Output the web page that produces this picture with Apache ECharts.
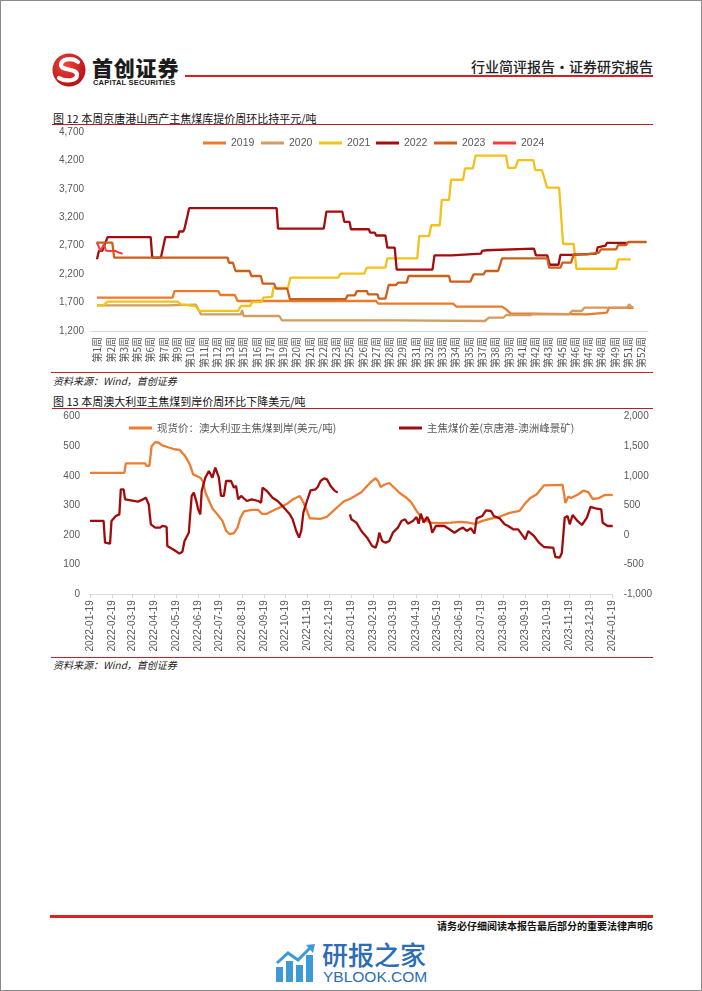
<!DOCTYPE html>
<html><head><meta charset="utf-8">
<script src="https://cdn.jsdelivr.net/npm/echarts@6.0.0/dist/echarts.min.js"></script>
<style>
html,body{margin:0;padding:0;background:#fff;}
#page{position:relative;width:702px;height:991px;box-sizing:border-box;border:1px solid #8a8a8a;overflow:hidden;font-family:"Noto Sans CJK SC","Liberation Sans",sans-serif;}
.t{position:absolute;white-space:nowrap;}
.ln{position:absolute;}
#chart{position:absolute;left:0;top:0;width:702px;height:991px;}
</style></head>
<body><div id="page">
<svg class="ln" style="left:51px;top:52px" width="34" height="34" viewBox="0 0 34 34">
 <defs><radialGradient id="g" cx="40%" cy="35%" r="70%"><stop offset="0" stop-color="#f0463a"/><stop offset="1" stop-color="#b30f16"/></radialGradient></defs>
 <circle cx="17" cy="17" r="16.5" fill="url(#g)"/>
 <path d="M26 9 C20 4 9 6 9 12 C9 18 25 15 25 22 C25 28 13 29 7 25" fill="none" stroke="#fff" stroke-width="4.2" stroke-linecap="round"/>
</svg>
<div class="t" style="left:91px;top:56px;font-size:21px;line-height:21px;font-weight:900;color:#1b1b1b;letter-spacing:0.8px">首创证券</div>
<div class="t" style="left:92px;top:78px;font-size:7.5px;line-height:8px;font-weight:700;color:#1b1b1b;font-family:'Liberation Sans';letter-spacing:0.2px">CAPITAL SECURITIES</div>
<div class="ln" style="left:184px;top:74px;width:468px;height:2px;background:#d71f1f"></div>
<div class="t" style="left:0;width:652px;text-align:right;top:58px;font-size:14px;line-height:14px;color:#222;font-weight:500">行业简评报告·证券研究报告</div>

<div class="t" style="left:52px;top:111.5px;font-size:11px;line-height:11px;color:#111">图 12 本周京唐港山西产主焦煤库提价周环比持平元/吨</div>
<div class="ln" style="left:51px;top:123px;width:601px;height:1px;background:#a8232a"></div>
<div class="ln" style="left:50px;top:371px;width:602px;height:1px;background:#c8202a"></div>
<div class="t" style="left:52px;top:375px;font-size:10px;line-height:10px;color:#222;font-style:italic">资料来源：Wind，首创证券</div>

<div class="t" style="left:52px;top:394.5px;font-size:11px;line-height:11px;color:#111">图 13 本周澳大利亚主焦煤到岸价周环比下降美元/吨</div>
<div class="ln" style="left:51px;top:407px;width:601px;height:1px;background:#a8232a"></div>
<div class="ln" style="left:50px;top:656px;width:602px;height:1px;background:#c8202a"></div>
<div class="t" style="left:52px;top:658.5px;font-size:10px;line-height:10px;color:#222;font-style:italic">资料来源：Wind，首创证券</div>

<div class="ln" style="left:49px;top:914px;width:603px;height:2.5px;background:#e0201f"></div>
<div class="t" style="left:0;width:652px;text-align:right;top:920px;font-size:10px;line-height:10px;color:#111;font-weight:700">请务必仔细阅读本报告最后部分的重要法律声明6</div>

<svg class="ln" style="left:274px;top:942px" width="42" height="40" viewBox="0 0 42 40">
 <rect x="1" y="24" width="7" height="15" fill="#3d9ad9"/>
 <rect x="11" y="18" width="7" height="21" fill="#3d9ad9"/>
 <rect x="21" y="22" width="7" height="17" fill="#3d9ad9"/>
 <rect x="31" y="12" width="7" height="27" fill="#3d9ad9"/>
 <polyline points="2,20 13,10 23,17 36,4" fill="none" stroke="#3d9ad9" stroke-width="3"/>
 <polygon points="31,2 40,1 38,10" fill="#3d9ad9"/>
</svg>
<div class="t" style="left:321px;top:940px;font-size:26px;line-height:26px;color:#2c6db3;font-weight:500">研报之家</div>
<div class="t" style="left:322px;top:968px;font-size:15.5px;line-height:16px;color:#2c6db3;font-family:'Liberation Sans'">YBLOOK.COM</div>

<div id="chart"></div>
</div>
<script>
// ---------- Chart 1 data (x = position along week axis, value = 元/吨) ----------
const weekLabels = ['第1周','第2周','第3周','第5周','第6周','第7周','第9周','第10周','第11周','第12周','第13周','第15周','第16周','第17周','第19周','第20周','第21周','第22周','第23周','第25周','第26周','第27周','第28周','第29周','第31周','第32周','第33周','第34周','第35周','第37周','第38周','第39周','第41周','第42周','第43周','第45周','第46周','第47周','第48周','第49周','第51周','第52周'];
const yearNames = ['2019','2020','2021','2022','2023','2024'];
const s2019 = [[0.45,1786],[6.15,1786],[6.3,1903],[9.6,1903],[9.75,1833],[10.85,1833],[11.05,1728],[21.5,1728],[21.65,1681],[27.3,1681],[27.55,1628],[31.0,1628],[31.3,1580],[31.65,1505],[33.3,1505],[33.45,1493],[37.4,1493],[37.55,1522],[38.9,1522],[39.05,1605],[40.9,1605]];
const s2020 = [[0.45,1651],[5.7,1651],[5.85,1665],[7.9,1665],[8.3,1493],[11.3,1493],[11.4,1570],[11.5,1464],[14.2,1464],[14.4,1388],[23.2,1388],[23.3,1376],[29.7,1376],[30.0,1434],[31.1,1434],[31.3,1481],[33.1,1481],[33.3,1493],[36.0,1493],[36.3,1552],[37.0,1552],[37.2,1610],[40.4,1610],[40.6,1669],[40.75,1620],[40.9,1620]];
const s2021 = [[0.45,1650],[0.95,1650],[1.25,1716],[6.55,1716],[6.75,1670],[7.85,1640],[8.0,1600],[8.15,1555],[11.1,1555],[11.3,1640],[12.0,1640],[12.15,1710],[12.85,1710],[13.0,1786],[13.65,1800],[13.75,1960],[14.85,1960],[15.05,2140],[18.65,2140],[18.8,2208],[20.6,2208],[20.8,2314],[22.2,2314],[22.35,2478],[24.6,2478],[24.75,2870],[25.5,2870],[25.65,3060],[26.3,3060],[26.45,3505],[27.0,3505],[27.15,3860],[28.05,3860],[28.2,4060],[28.8,4060],[29.0,4285],[31.3,4285],[31.45,4070],[32.0,4070],[32.2,4205],[33.35,4205],[33.5,4030],[34.0,4030],[34.4,3720],[35.3,3720],[35.6,2730],[36.4,2730],[36.6,2295],[39.6,2295],[39.75,2460],[40.7,2460]];
const s2022 = [[0.45,2460],[0.6,2610],[0.85,2610],[1.25,2850],[4.5,2850],[4.62,2490],[5.27,2490],[5.6,2850],[6.55,2850],[6.65,2950],[6.95,2950],[7.05,3000],[7.2,3150],[7.4,3360],[14.0,3360],[14.1,3000],[17.55,3000],[17.75,3300],[18.95,3300],[19.1,3120],[19.5,3120],[19.6,2990],[20.95,2990],[21.05,2930],[21.4,2930],[21.5,2880],[22.2,2880],[22.35,2665],[22.9,2665],[23.05,2280],[25.75,2280],[25.9,2530],[27.2,2530],[27.3,2560],[29.4,2560],[29.5,2610],[29.8,2620],[29.95,2650],[33.4,2650],[33.55,2530],[34.4,2530],[34.6,2365],[35.25,2365],[35.4,2540],[36.2,2540],[36.3,2560],[38.1,2560],[38.2,2670],[38.8,2700],[38.9,2750],[40.4,2750]];
const s2023 = [[0.4,2755],[1.6,2755],[1.75,2490],[10.3,2490],[10.4,2400],[10.7,2400],[10.9,2255],[11.95,2255],[12.1,2167],[12.8,2167],[12.95,2032],[13.8,2032],[13.95,1944],[14.8,1944],[15.0,1760],[19.2,1760],[19.35,1827],[19.9,1827],[20.05,1903],[20.8,1903],[20.9,1844],[21.6,1844],[21.7,1768],[22.2,1768],[22.45,2009],[23.0,2009],[23.15,2050],[23.8,2050],[23.95,2167],[27.0,2167],[27.1,2067],[28.6,2067],[28.85,2197],[29.6,2197],[29.75,2255],[30.7,2255],[31.0,2478],[34.4,2478],[34.55,2314],[35.4,2314],[35.55,2402],[36.2,2402],[36.4,2548],[37.4,2548],[37.55,2578],[38.3,2578],[38.45,2636],[39.6,2636],[39.75,2712],[40.35,2712],[40.5,2765],[41.9,2765]];
const s2024 = [[0.45,2755],[0.72,2607],[0.98,2725],[1.12,2615],[1.35,2607],[1.85,2607],[2.1,2580],[2.38,2560]];

// ---------- Chart 2 data ----------
const tickDates = ['2022-01-19','2022-02-19','2022-03-19','2022-04-19','2022-05-19','2022-06-19','2022-07-19','2022-08-19','2022-09-19','2022-10-19','2022-11-19','2022-12-19','2023-01-19','2023-02-19','2023-03-19','2023-04-19','2023-05-19','2023-06-19','2023-07-19','2023-08-19','2023-09-19','2023-10-19','2023-11-19','2023-12-19','2024-01-19'];
const spotName = '现货价：澳大利亚主焦煤到岸(美元/吨)';
const spreadName = '主焦煤价差(京唐港-澳洲峰景矿)';
const spotPrice = [['2022-01-19',410],['2022-03-08',410],['2022-03-10',442],['2022-04-06',442],['2022-04-08',434],['2022-04-12',434],['2022-04-15',500],['2022-04-20',514],['2022-04-25',512],['2022-04-30',503],['2022-05-09',496],['2022-05-17',490],['2022-05-24',488],['2022-05-31',470],['2022-06-05',450],['2022-06-08',435],['2022-06-12',405],['2022-06-22',394],['2022-06-26',380],['2022-06-29',345],['2022-07-09',290],['2022-07-16',270],['2022-07-23',248],['2022-07-28',215],['2022-08-02',203],['2022-08-08',207],['2022-08-13',225],['2022-08-17',258],['2022-08-22',280],['2022-09-02',285],['2022-09-11',285],['2022-09-16',272],['2022-09-23',272],['2022-10-01',282],['2022-10-10',292],['2022-10-20',304],['2022-10-29',320],['2022-11-08',332],['2022-11-13',310],['2022-11-18',282],['2022-11-22',257],['2022-12-07',255],['2022-12-16',262],['2022-12-24',280],['2023-01-02',300],['2023-01-09',315],['2023-01-17',322],['2023-01-24',332],['2023-02-02',345],['2023-02-10',366],['2023-02-17',383],['2023-02-22',392],['2023-02-26',380],['2023-03-01',362],['2023-03-06',370],['2023-03-13',376],['2023-03-20',360],['2023-03-27',343],['2023-04-06',326],['2023-04-13',310],['2023-04-20',282],['2023-04-27',259],['2023-05-09',242],['2023-05-24',240],['2023-06-07',242],['2023-06-22',245],['2023-07-01',242],['2023-07-11',238],['2023-07-21',248],['2023-07-30',254],['2023-08-14',262],['2023-08-28',275],['2023-09-11',282],['2023-09-19',308],['2023-09-26',325],['2023-10-05',338],['2023-10-15',368],['2023-11-10',370],['2023-11-14',308],['2023-11-18',330],['2023-11-22',325],['2023-12-02',338],['2023-12-09',350],['2023-12-16',345],['2023-12-22',322],['2023-12-31',325],['2024-01-07',335],['2024-01-19',336]];
const spread = [['2022-01-19',240],['2022-02-07',240],['2022-02-09',-128],['2022-02-16',-145],['2022-02-18',240],['2022-02-24',323],['2022-03-01',350],['2022-03-03',773],['2022-03-07',773],['2022-03-09',604],['2022-03-27',565],['2022-04-03',604],['2022-04-07',632],['2022-04-11',520],['2022-04-14',182],['2022-04-20',126],['2022-04-27',126],['2022-04-30',154],['2022-05-06',137],['2022-05-07',-184],['2022-05-17',-257],['2022-05-24',-313],['2022-05-28',-280],['2022-05-31',-99],['2022-06-06',41],['2022-06-10',661],['2022-06-13',717],['2022-06-17',548],['2022-06-19',435],['2022-06-22',351],['2022-06-24',745],['2022-06-29',970],['2022-07-04',1083],['2022-07-09',970],['2022-07-13',1139],['2022-07-18',970],['2022-07-21',661],['2022-07-25',661],['2022-07-28',914],['2022-08-04',914],['2022-08-08',801],['2022-08-11',830],['2022-08-14',604],['2022-08-18',661],['2022-08-26',576],['2022-09-02',604],['2022-09-11',576],['2022-09-15',548],['2022-09-17',801],['2022-09-23',745],['2022-10-01',632],['2022-10-08',576],['2022-10-17',464],['2022-10-25',351],['2022-10-29',267],['2022-11-03',69],['2022-11-07',-43],['2022-11-10',69],['2022-11-13',379],['2022-11-18',576],['2022-11-23',756],['2022-11-30',773],['2022-12-03',813],['2022-12-07',914],['2022-12-12',959],['2022-12-16',942],['2022-12-21',830],['2022-12-26',756],['2022-12-31',717],['2023-01-08',null],['2023-01-17',351],['2023-01-19',267],['2023-01-26',210],['2023-02-02',69],['2023-02-10',-43],['2023-02-17',-184],['2023-02-22',-212],['2023-02-25',-99],['2023-02-27',41],['2023-03-03',-99],['2023-03-08',-128],['2023-03-13',-99],['2023-03-18',41],['2023-03-25',126],['2023-03-30',238],['2023-04-04',267],['2023-04-08',193],['2023-04-15',238],['2023-04-20',306],['2023-04-23',193],['2023-04-26',362],['2023-04-30',210],['2023-05-05',306],['2023-05-09',210],['2023-05-12',41],['2023-05-17',154],['2023-05-29',154],['2023-06-05',98],['2023-06-12',41],['2023-06-19',98],['2023-06-24',126],['2023-06-29',69],['2023-07-05',115],['2023-07-10',24],['2023-07-13',283],['2023-07-21',323],['2023-07-26',418],['2023-08-02',407],['2023-08-06',323],['2023-08-14',283],['2023-08-21',182],['2023-08-26',154],['2023-09-02',98],['2023-09-09',98],['2023-09-14',13],['2023-09-19',-71],['2023-09-23',69],['2023-10-01',-15],['2023-10-08',-128],['2023-10-15',-201],['2023-10-25',-212],['2023-10-28',-212],['2023-10-31',-370],['2023-11-06',-381],['2023-11-09',-297],['2023-11-13',295],['2023-11-17',323],['2023-11-20',182],['2023-11-24',340],['2023-11-30',250],['2023-12-07',171],['2023-12-14',295],['2023-12-19',475],['2023-12-26',452],['2024-01-03',435],['2024-01-05',210],['2024-01-12',154],['2024-01-19',154]];

// ---------- helpers ----------
function ts(s){const p=s.split('-').map(Number);return new Date(p[0],p[1]-1,p[2]).getTime();}
function pad(n){return (n<10?'0':'')+n;}
function fmtDate(v){const d=new Date(v);return d.getFullYear()+'-'+pad(d.getMonth()+1)+'-'+pad(d.getDate());}
function fmtNum(v){return Number(v).toLocaleString('en-US');}
function toTs(arr){return arr.map(p=>[ts(p[0]), p[1]===null?'-':p[1]]);}
const tickTs = tickDates.map(ts);

const yearColors = ['#ec7a2c','#d29c62','#f2c21a','#a30d0d','#cc5f1b','#f43c3c'];
const yearData = [s2019,s2020,s2021,s2022,s2023,s2024];
const legend1Left = [202,260,318,375,433,492];

const labelGray = '#595959';
const numFont = 'Liberation Sans';
const cjkFont = 'Noto Sans CJK SC';

const legends = yearNames.map((n,i)=>({
  data:[n], left:legend1Left[i], top:136, padding:0, icon:'rect', itemWidth:23, itemHeight:3,
  textStyle:{fontSize:10.5, color:labelGray, fontFamily:numFont, lineHeight:12}
})).concat([
  {data:[spotName], left:128, top:421, padding:0, icon:'rect', itemWidth:23, itemHeight:3, textStyle:{fontSize:10.5,color:labelGray,fontFamily:cjkFont,lineHeight:12}},
  {data:[spreadName], left:398, top:421, padding:0, icon:'rect', itemWidth:23, itemHeight:3, textStyle:{fontSize:10.5,color:labelGray,fontFamily:cjkFont,lineHeight:12}}
]);

const series = yearNames.map((n,i)=>({
  name:n, type:'line', xAxisIndex:1, yAxisIndex:0, data:yearData[i], symbol:'none',
  lineStyle:{width: i===5?2:2.3, color:yearColors[i]}, itemStyle:{color:yearColors[i]}, z:2+i
})).concat([
  {name:spotName, type:'line', xAxisIndex:2, yAxisIndex:1, data:toTs(spotPrice), symbol:'none', lineStyle:{width:2.3,color:'#ed7d31'}, itemStyle:{color:'#ed7d31'}, z:3},
  {name:spreadName, type:'line', xAxisIndex:2, yAxisIndex:2, data:toTs(spread), symbol:'none', connectNulls:false, lineStyle:{width:2.3,color:'#a00c0c'}, itemStyle:{color:'#a00c0c'}, z:4}
]);

const yLabelBase = {fontSize:10, color:labelGray, fontFamily:numFont, formatter:fmtNum, verticalAlign:'middle', verticalAlignMaxLabel:'middle', verticalAlignMinLabel:'middle'};

const chart = echarts.init(document.getElementById('chart'), null, {renderer:'canvas', width:702, height:991});
chart.setOption({
  animation:false,
  backgroundColor:'transparent',
  grid:[
    {left:90, top:131, width:557, height:199},
    {left:89, top:415.7, width:522.7, height:177.6}
  ],
  legend:legends,
  xAxis:[
    {gridIndex:0, type:'category', data:weekLabels, boundaryGap:true,
     axisLine:{lineStyle:{color:'#d9d9d9',width:1}}, axisTick:{show:false},
     axisLabel:{interval:0, rotate:90, fontSize:10, color:labelGray, margin:6, fontFamily:cjkFont},
     splitLine:{show:false}},
    {gridIndex:0, type:'value', min:0, max:42, show:false, splitLine:{show:false}},
    {gridIndex:1, type:'value', min:ts('2022-01-19'), max:ts('2024-01-19'), scale:true,
     axisLine:{lineStyle:{color:'#d9d9d9',width:1}},
     axisTick:{show:true, customValues:tickTs, length:4, lineStyle:{color:'#d9d9d9'}},
     axisLabel:{customValues:tickTs, rotate:90, fontSize:10, color:labelGray, margin:6, fontFamily:numFont, formatter:fmtDate},
     splitLine:{show:false}}
  ],
  yAxis:[
    {gridIndex:0, type:'value', min:1200, max:4700, interval:500,
     axisLine:{show:false}, axisTick:{show:false}, splitLine:{show:false},
     axisLabel:Object.assign({margin:7}, yLabelBase)},
    {gridIndex:1, type:'value', min:0, max:600, interval:100,
     axisLine:{show:false}, axisTick:{show:false}, splitLine:{show:false},
     axisLabel:Object.assign({margin:10}, yLabelBase)},
    {gridIndex:1, type:'value', position:'right', min:-1000, max:2000, interval:500,
     axisLine:{show:false}, axisTick:{show:false}, splitLine:{show:false},
     axisLabel:Object.assign({margin:11}, yLabelBase)}
  ],
  series:series
});
</script>
</body></html>
